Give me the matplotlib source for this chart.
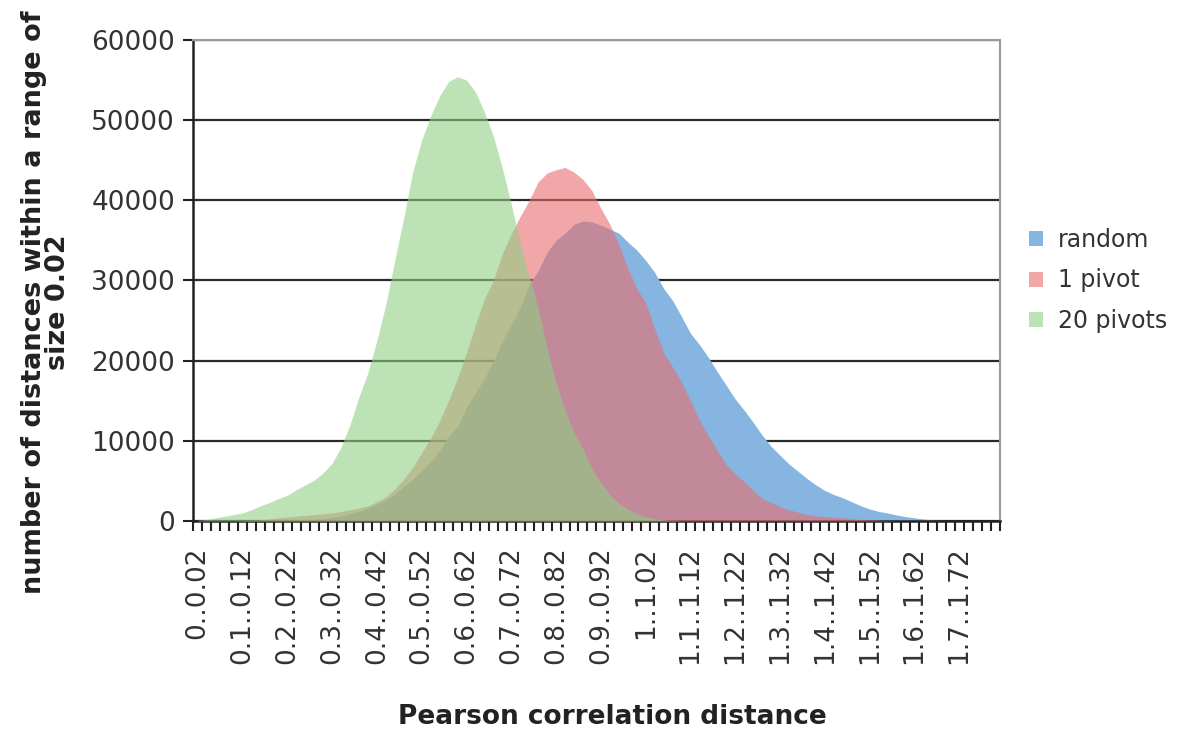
import numpy as np
import matplotlib.pyplot as plt

# bins of width 0.02 from 0 to 1.8
bin_edges = [round(0.02 * k, 2) for k in range(91)]
categories = ['%g..%g' % (bin_edges[k], bin_edges[k + 1]) for k in range(90)]

random_vals = [0, 0, 0, 0, 0, 0, 0, 0, 0, 0,
               50, 100, 150, 200, 300, 450, 650, 900, 1200, 1600,
               2100, 2600, 3400, 4300, 5200, 6300, 7400, 8800, 10500, 11800,
               14200, 16000, 17800, 19900, 22500, 24500, 26700, 29500, 31200, 33500,
               35000, 35900, 37000, 37400, 37300, 36900, 36400, 35900, 34800, 33800,
               32500, 31000, 29000, 27500, 25500, 23400, 22000, 20400, 18600, 16900,
               15200, 13800, 12300, 10700, 9300, 8200, 7100, 6200, 5300, 4500,
               3800, 3300, 2900, 2400, 1900, 1500, 1200, 1000, 750, 550,
               400, 250, 150, 100, 50, 0, 0, 0, 0, 0]

pivot1_vals = [0, 0, 0, 0, 0, 50, 100, 150, 250, 400,
               500, 600, 700, 800, 900, 1000, 1200, 1400, 1600, 1900,
               2400, 3000, 4000, 5200, 6700, 8500, 10300, 12500, 15000, 17800,
               21000, 24500, 27700, 30000, 33300, 35800, 38000, 40000, 42300, 43400,
               43800, 44100, 43500, 42600, 41200, 39000, 37000, 34500, 31500, 29000,
               27200, 24000, 21000, 19200, 17300, 15000, 12600, 10600, 8800, 7000,
               5900, 4900, 3800, 2800, 2300, 1800, 1400, 1100, 800, 650,
               550, 450, 400, 300, 200, 150, 100, 50, 0, 0,
               0, 0, 0, 0, 0, 0, 0, 0, 0, 0]

pivot20_vals = [100, 200, 400, 600, 800, 1000, 1400, 1900, 2300, 2800,
                3200, 3900, 4500, 5100, 6000, 7200, 9200, 12000, 15500, 18500,
                22500, 27000, 32500, 37800, 43500, 47500, 50500, 53000, 54800, 55400,
                55000, 53500, 51000, 48000, 44000, 39500, 34500, 30500, 26500, 21500,
                17200, 13800, 11000, 9000, 6500, 4800, 3300, 2200, 1500, 900,
                500, 300, 150, 80, 0, 0, 0, 0, 0, 0,
                0, 0, 0, 0, 0, 0, 0, 0, 0, 0,
                0, 0, 0, 0, 0, 0, 0, 0, 0, 0,
                0, 0, 0, 0, 0, 0, 0, 0, 0, 0]

x = np.arange(len(categories))

fig = plt.figure(figsize=(12, 7.38), dpi=100)
ax = fig.add_axes([0.161, 0.294, 0.672, 0.652])

ax.fill_between(x, random_vals, color='#86b5e1', label='random', zorder=2, lw=0)
ax.fill_between(x, pivot1_vals, color='#e96c6c', alpha=0.6, label='1 pivot', zorder=3, lw=0)
ax.fill_between(x, pivot20_vals, color='#91cf84', alpha=0.6, label='20 pivots', zorder=4, lw=0)

ax.set_xlim(-0.5, len(categories) - 0.5)
ax.set_ylim(0, 60000)
ax.set_yticks(range(0, 60001, 10000))
ax.yaxis.grid(True, color='#2a2a2a', lw=1.6, zorder=1)
ax.set_axisbelow(True)

ax.set_xticks(x[::5])
ax.set_xticklabels(categories[::5], rotation=90, fontsize=19, color='#333333')
ax.set_xticks(np.arange(-0.5, len(categories), 1), minor=True)
ax.tick_params(axis='x', which='major', length=0, pad=18)
ax.tick_params(axis='x', which='minor', length=7, width=1.5, color='#222222')
ax.tick_params(axis='y', labelsize=19, length=7, width=1.5, color='#222222', labelcolor='#333333', pad=6)

for s in ['left', 'bottom']:
    ax.spines[s].set_color('#222222')
    ax.spines[s].set_linewidth(1.8)
for s in ['top', 'right']:
    ax.spines[s].set_color('#9a9a9a')
    ax.spines[s].set_linewidth(1.5)

ax.set_xlabel('Pearson correlation distance', fontsize=19, fontweight='bold', color='#222222')
ax.xaxis.set_label_coords(0.52, -0.38)
ax.set_ylabel('number of distances within a range of\nsize 0.02', fontsize=19.5, fontweight='bold',
              color='#222222', linespacing=0.9)
ax.yaxis.set_label_coords(-0.152, 0.455)

ax.legend(loc='center left', bbox_to_anchor=(1.025, 0.5), frameon=False, fontsize=17,
          handlelength=0.6, handleheight=0.6, handletextpad=0.6, labelspacing=0.7,
          borderaxespad=0, labelcolor='#333333')

fig.savefig('out.png', dpi=100)
